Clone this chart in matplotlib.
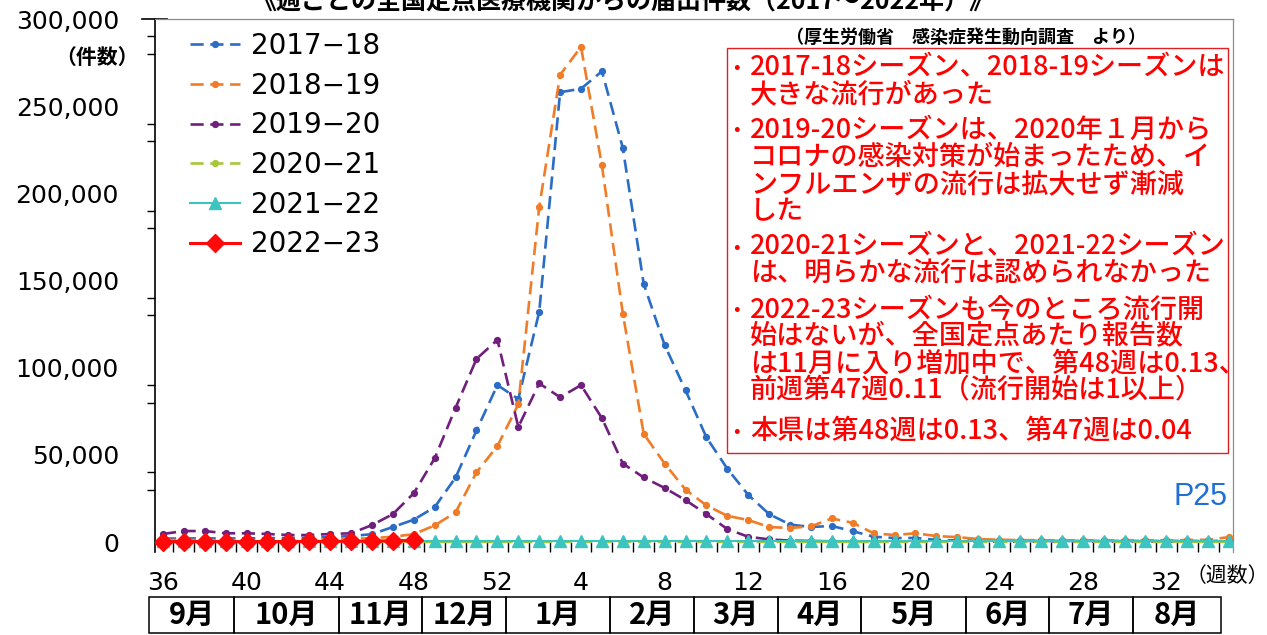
import numpy as np
import matplotlib
matplotlib.use("Agg")
import matplotlib.pyplot as plt
from matplotlib.patches import Rectangle
from matplotlib.lines import Line2D
from matplotlib.ticker import FixedLocator

plt.rcParams['font.family'] = ['DejaVu Sans', 'Noto Sans CJK JP']
JP = ['Noto Sans CJK JP', 'DejaVu Sans']

# week numbers of a season (36 .. 52, 1 .. 35)
weeks = list(range(36, 53)) + list(range(1, 36))

# weekly counts
s2017_18 = [2000, 2000, 2100, 2000, 2100, 2200, 2300, 2500, 2900, 3400, 4500, 8600, 12800, 20000, 37000, 64000, 90000,
            82000, 132000, 258000, 260000, 270000, 226000, 148000, 113000, 87000, 60000, 42000, 27000, 16000, 10000,
            8600, 9200, 6200, 3000, 2300, 2300, 1200, 900, 800, 700, 700, 600, 600, 600, 600, 600, 600, 600, 600, 600, 600]
s2018_19 = [1200, 1200, 1100, 1100, 1100, 1100, 1200, 1300, 1500, 1800, 2200, 3000, 4500, 9500, 17000, 40000, 55000,
            79000, 192000, 268000, 284000, 216000, 131000, 62000, 45000, 30000, 21000, 15000, 12600, 8600, 8000,
            9000, 13500, 11000, 5000, 4000, 5000, 3400, 2800, 1700, 1300, 1100, 1000, 1000, 1000, 1000, 1000, 1000,
            1000, 1100, 1300, 2800]
s2019_20 = [4600, 6300, 6300, 5000, 5000, 4600, 4000, 4000, 4600, 5000, 9700, 16000, 28000, 48000, 77000, 105000, 116000,
            66000, 91000, 83000, 90000, 71000, 45000, 37000, 31000, 24000, 16000, 7400, 3000, 1500, 800,
            600, 400, 300, 300, 300, 300, 300, 300, 300, 300, 300, 300, 300, 300, 300, 300, 300, 300, 300, 300, 300]
s2020_21 = [150, 140, 130, 120, 110, 100, 90, 90, 80, 80, 70, 70, 60, 60, 70, 70, 60,
            60, 60, 60, 60, 60, 60, 60, 60, 60, 60, 60, 60, 60, 60, 60, 60, 60, 60, 60, 60,
            60, 60, 60, 60, 60, 60, 60, 60, 60, 60, 60, 60, 60, 60, 60]
s2021_22 = [300, 300, 300, 300, 300, 300, 300, 300, 300, 300, 300, 300, 300, 300, 300, 300, 300,
            300, 300, 300, 300, 300, 300, 300, 300, 300, 300, 300, 300, 300, 300, 300, 300, 300, 300, 300, 300,
            300, 300, 300, 300, 300, 300, 300, 300, 300, 300, 300, 300, 300, 300, 300]
s2022_23 = [250, 260, 240, 230, 250, 270, 280, 300, 350, 420, 530, 700, 870]

months = ['9月', '10月', '11月', '12月', '1月', '2月', '3月', '4月', '5月', '6月', '7月', '8月']
month_edges = [-0.65, 3.4, 8.4, 12.4, 16.4, 21.4, 25.4, 29.4, 33.4, 38.4, 42.4, 46.4, 50.6]

notes = [
    ('•', '2017-18シーズン、2018-19シーズンは'),
    ('', '大きな流行があった'),
    ('•', '2019-20シーズンは、2020年１月から'),
    ('', 'コロナの感染対策が始まったため、イ'),
    ('', 'ンフルエンザの流行は拡大せず漸減'),
    ('', 'した'),
    ('•', '2020-21シーズンと、2021-22シーズン'),
    ('', 'は、明らかな流行は認められなかった'),
    ('•', '2022-23シーズンも今のところ流行開'),
    ('', '始はないが、全国定点あたり報告数'),
    ('', 'は11月に入り増加中で、第48週は0.13、'),
    ('', '前週第47週0.11（流行開始は1以上）'),
    ('•', '本県は第48週は0.13、第47週は0.04'),
]
note_y = [68, 95, 130, 157, 185, 212, 247, 274, 310, 337, 364, 391, 431]

W, H = 1267, 635
fig = plt.figure(figsize=(W / 100, H / 100), dpi=100)
ax = fig.add_axes([155 / W, 1 - 552 / H, (1233 - 155) / W, 533 / H])

x = np.arange(len(weeks))
dash = (0, (5, 2.5))
ax.plot(x, s2017_18, color='#2b6cc4', lw=1.9, ls=dash, marker='o', ms=4.2, label='2017−18', zorder=3)
ax.plot(x, s2018_19, color='#f07c28', lw=1.9, ls=dash, marker='o', ms=4.2, label='2018−19', zorder=3)
ax.plot(x, s2019_20, color='#70207c', lw=1.9, ls=dash, marker='o', ms=4.2, label='2019−20', zorder=3)
ax.plot(x, s2020_21, color='#a6c83a', lw=1.9, ls=dash, marker='o', ms=4.2, label='2020−21', zorder=3)
ax.plot(x, s2021_22, color='#3cc4c0', lw=1.5, marker='^', ms=8, label='2021−22', zorder=4)
ax.plot(x[:len(s2022_23)], s2022_23, color='#ff0a0a', lw=2.2, marker='D', ms=9.5, label='2022−23', zorder=5)

ax.set_xlim(-0.38, 51.19)
ax.set_ylim(-5736, 300000)

ax.set_yticks(range(0, 300001, 50000))
ax.set_yticklabels([f'{v:,}' for v in range(0, 300001, 50000)])
ax.yaxis.set_minor_locator(FixedLocator([30000, 40000, 80000, 90000, 130000, 140000,
                                         180000, 190000, 230000, 240000, 280000, 290000]))
ax.tick_params(axis='y', which='major', length=0, pad=26, labelsize=18)
ax.tick_params(axis='y', which='minor', length=6, width=1, direction='out')

ax.set_xticks(x[::4])
ax.set_xticklabels([str(w) for w in weeks[::4]])
ax.xaxis.set_minor_locator(FixedLocator(x[:-1] + 0.5))
ax.tick_params(axis='x', which='major', length=0, pad=14, labelsize=18)
ax.tick_params(axis='x', which='minor', length=7, width=1, direction='in')

ax.spines['bottom'].set_visible(False)
ax.spines['left'].set_color('black')
ax.spines['left'].set_linewidth(1.2)
for s in ['top', 'right']:
    ax.spines[s].set_color('#8c8c8c')
    ax.spines[s].set_linewidth(0.9)
ax.add_line(Line2D([-0.012, 0.011], [1, 1], transform=ax.transAxes, color='black', lw=1.2, clip_on=False))

ax.legend(loc='upper left', bbox_to_anchor=((190 - 155) / 1078, 1 - 13 / 533), frameon=False,
          fontsize=20, handlelength=1.8, handletextpad=0.4, labelspacing=0.42,
          borderpad=0, borderaxespad=0)

# month row under the axis
tr = ax.get_xaxis_transform()
y0, y1 = (552 - 633) / 533, (552 - 597) / 533
for m, a, b in zip(months, month_edges[:-1], month_edges[1:]):
    ax.add_patch(Rectangle((a, y0), b - a, y1 - y0, transform=tr, fill=False,
                           edgecolor='black', lw=1.1, clip_on=False))
    ax.text((a + b) / 2, (y0 + y1) / 2, m, transform=tr, ha='center', va='center',
            fontsize=21, family=JP, fontweight='bold')

def fx(px):
    return px / W

def fy(py):
    return 1 - py / H

fig.text(fx(97), fy(57), '（件数）', ha='center', va='center', fontsize=15, family=JP, fontweight='bold')
fig.text(fx(1186), fy(576), '（週数）', ha='left', va='center', fontsize=15, family=JP)
fig.text(fx(623), fy(9), '《週ごとの全国定点医療機関からの届出件数（2017～2022年）》', ha='center',
         va='baseline', fontsize=18, family=JP, fontweight='bold')
fig.text(fx(966), fy(37), '（厚生労働省　感染症発生動向調査　より）', ha='center', va='center',
         fontsize=13, family=JP, fontweight='bold')
fig.text(fx(1228), fy(497), 'P25', ha='right', va='center', fontsize=22, color='#1f6fd6',
         family=['Liberation Sans', 'DejaVu Sans'])

fig.add_artist(Rectangle((fx(727), fy(453)), (1228 - 727) / W, (453 - 48) / H, transform=fig.transFigure,
                         facecolor='white', edgecolor='#e02020', lw=1.0, zorder=6))
for (b, t), yy in zip(notes, note_y):
    if b:
        fig.text(fx(733), fy(yy), b, ha='left', va='center', fontsize=14, color='#ff0000', family=JP, zorder=7)
    fig.text(fx(750), fy(yy), t, ha='left', va='center', fontsize=19.5, color='#ff0000', family=JP,
             fontweight='medium', zorder=7)

fig.savefig('out.png', dpi=100)
